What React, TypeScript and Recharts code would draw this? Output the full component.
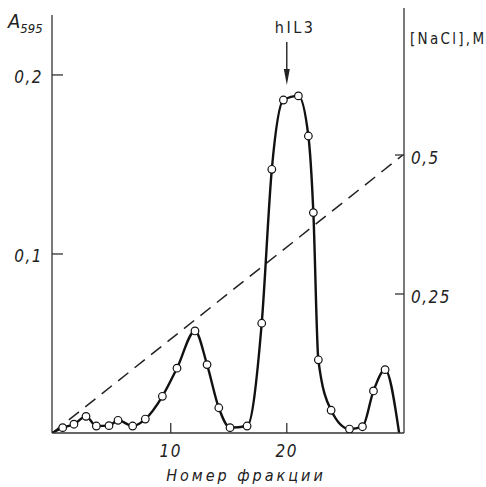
import React from 'react';
import { ComposedChart, Line, Scatter, XAxis, YAxis, ReferenceLine, ReferenceDot } from 'recharts';

// fraction numbers of the measured points
const fractions = [0.69, 1.66, 2.7, 3.59, 4.68, 5.46, 6.72, 7.81, 9.28, 10.54, 12.09, 13.13, 14.14, 15.11, 16.58, 17.84, 18.71, 19.71, 21.0, 21.86, 22.29, 22.72, 23.82, 25.4, 26.52, 27.47, 28.47];
// absorbance A595 at each fraction
const absorbance = [0.003, 0.0049, 0.0093, 0.0039, 0.0041, 0.0071, 0.0039, 0.0078, 0.0205, 0.0362, 0.057, 0.0382, 0.0141, 0.003, 0.0039, 0.0613, 0.1473, 0.186, 0.1883, 0.1659, 0.1231, 0.0409, 0.0127, 0.0022, 0.0035, 0.0235, 0.0354];
// curve start / end on the baseline
const curveStart = { f: -0.23, a: 0 };
const curveEnd = { f: 29.68, a: 0 };
// NaCl gradient (fraction, molarity)
const gradientFractions = [-0.2, 30];
const gradientNaCl = [0, 0.5];

const xTicks = [10, 20];
const leftTicks = [0.1, 0.2];
const rightTicks = [0.25, 0.5];
const peakFraction = 20;
const peakArrowTip = 0.1944;

const points = fractions.map((f, i) => ({ f, a: absorbance[i] }));
const curve = [curveStart, ...points, curveEnd];
const gradient = gradientFractions.map((f, i) => ({ f, n: gradientNaCl[i] }));

const FONT = "'DejaVu Sans Condensed', 'Liberation Sans Narrow', 'DejaVu Sans', sans-serif";
const fmt = (v: number) => String(v).replace('.', ',');

const tickStyle = { fill: '#222', fontSize: 17, fontStyle: 'italic', fontFamily: FONT, letterSpacing: 1.5 };

const Circle = (p: any) => (
  <circle cx={p.cx} cy={p.cy} r={3.8} fill="#fff" stroke="#111" strokeWidth={1.2} />
);

const Arrow = (p: any) => {
  const { cx, cy } = p;
  return (
    <g>
      <text x={cx - 12} y={cy - 52} fontFamily={FONT} fontSize={16} letterSpacing={2.5} fill="#222">hIL3</text>
      <line x1={cx} y1={cy - 43} x2={cx} y2={cy - 12} stroke="#222" strokeWidth={1.4} />
      <path d={`M${cx - 3},${cy - 16} L${cx + 3},${cy - 16} L${cx},${cy} Z`} fill="#222" />
    </g>
  );
};

const LeftTitle = (p: any) => {
  const vb = p.viewBox || { x: 0, y: 8 };
  return (
    <text x={vb.x + 8} y={vb.y + 20} fontFamily={FONT} fontStyle="italic" fontSize={20} fill="#222">
      A<tspan fontSize={13} dy={5}>595</tspan>
    </text>
  );
};

const RightTitle = (p: any) => {
  const vb = p.viewBox || { x: 404, y: 8 };
  return (
    <text x={vb.x + 6} y={vb.y + 36} fontFamily={FONT} fontSize={15} letterSpacing={2.3} fill="#222">
      [NaCl],M
    </text>
  );
};

const BottomTitle = (p: any) => {
  const vb = p.viewBox || { x: 52, y: 433, width: 352 };
  return (
    <text x={vb.x + 194} y={vb.y + 48} textAnchor="middle" fontFamily={FONT} fontStyle="italic" fontSize={16} letterSpacing={3} fill="#222">
      Номер фракции
    </text>
  );
};

export default function App() {
  return (
    <div style={{ position: 'absolute', left: 0, top: 0, background: '#fff' }}>
      <ComposedChart width={486} height={487} margin={{ top: 8, right: 0, bottom: 0, left: 0 }}>
        <XAxis
          type="number"
          dataKey="f"
          domain={[-0.23, 30.1]}
          ticks={xTicks}
          allowDataOverflow
          height={54}
          tickSize={-10}
          tickMargin={22}
          axisLine={{ stroke: '#333', strokeWidth: 1.6 }}
          tickLine={{ stroke: '#333', strokeWidth: 1.3 }}
          tick={tickStyle}
          label={<BottomTitle />}
        />
        <YAxis
          yAxisId="left"
          orientation="left"
          type="number"
          width={52}
          domain={[0, 0.2374]}
          ticks={leftTicks}
          allowDataOverflow
          tickFormatter={fmt}
          tickSize={-11}
          tickMargin={20}
          axisLine={false}
          tickLine={{ stroke: '#333', strokeWidth: 1.3 }}
          tick={{ ...tickStyle, dy: 2 }}
          label={<LeftTitle />}
        />
        <YAxis
          yAxisId="right"
          orientation="right"
          type="number"
          width={82}
          domain={[0, 0.7644]}
          ticks={rightTicks}
          allowDataOverflow
          tickFormatter={fmt}
          tickSize={-9}
          tickMargin={16}
          axisLine={{ stroke: '#333', strokeWidth: 1.3 }}
          tickLine={{ stroke: '#333', strokeWidth: 1.3 }}
          tick={{ ...tickStyle, dy: 3 }}
          label={<RightTitle />}
        />
        <ReferenceLine
          yAxisId="left"
          segment={[{ x: -0.23, y: 0 }, { x: -0.23, y: 0.2335 }]}
          stroke="#333"
          strokeWidth={1.3}
          ifOverflow="visible"
        />
        <Line
          yAxisId="right"
          data={gradient}
          dataKey="n"
          type="linear"
          stroke="#222"
          strokeWidth={1.5}
          strokeDasharray="13 8"
          dot={false}
          isAnimationActive={false}
        />
        <Line
          yAxisId="left"
          data={curve}
          dataKey="a"
          type="monotone"
          stroke="#111"
          strokeWidth={2.4}
          dot={false}
          isAnimationActive={false}
        />
        <Scatter
          yAxisId="left"
          data={points}
          dataKey="a"
          shape={<Circle />}
          isAnimationActive={false}
        />
        <ReferenceDot
          yAxisId="left"
          x={peakFraction}
          y={peakArrowTip}
          shape={<Arrow />}
          ifOverflow="visible"
        />
      </ComposedChart>
    </div>
  );
}
